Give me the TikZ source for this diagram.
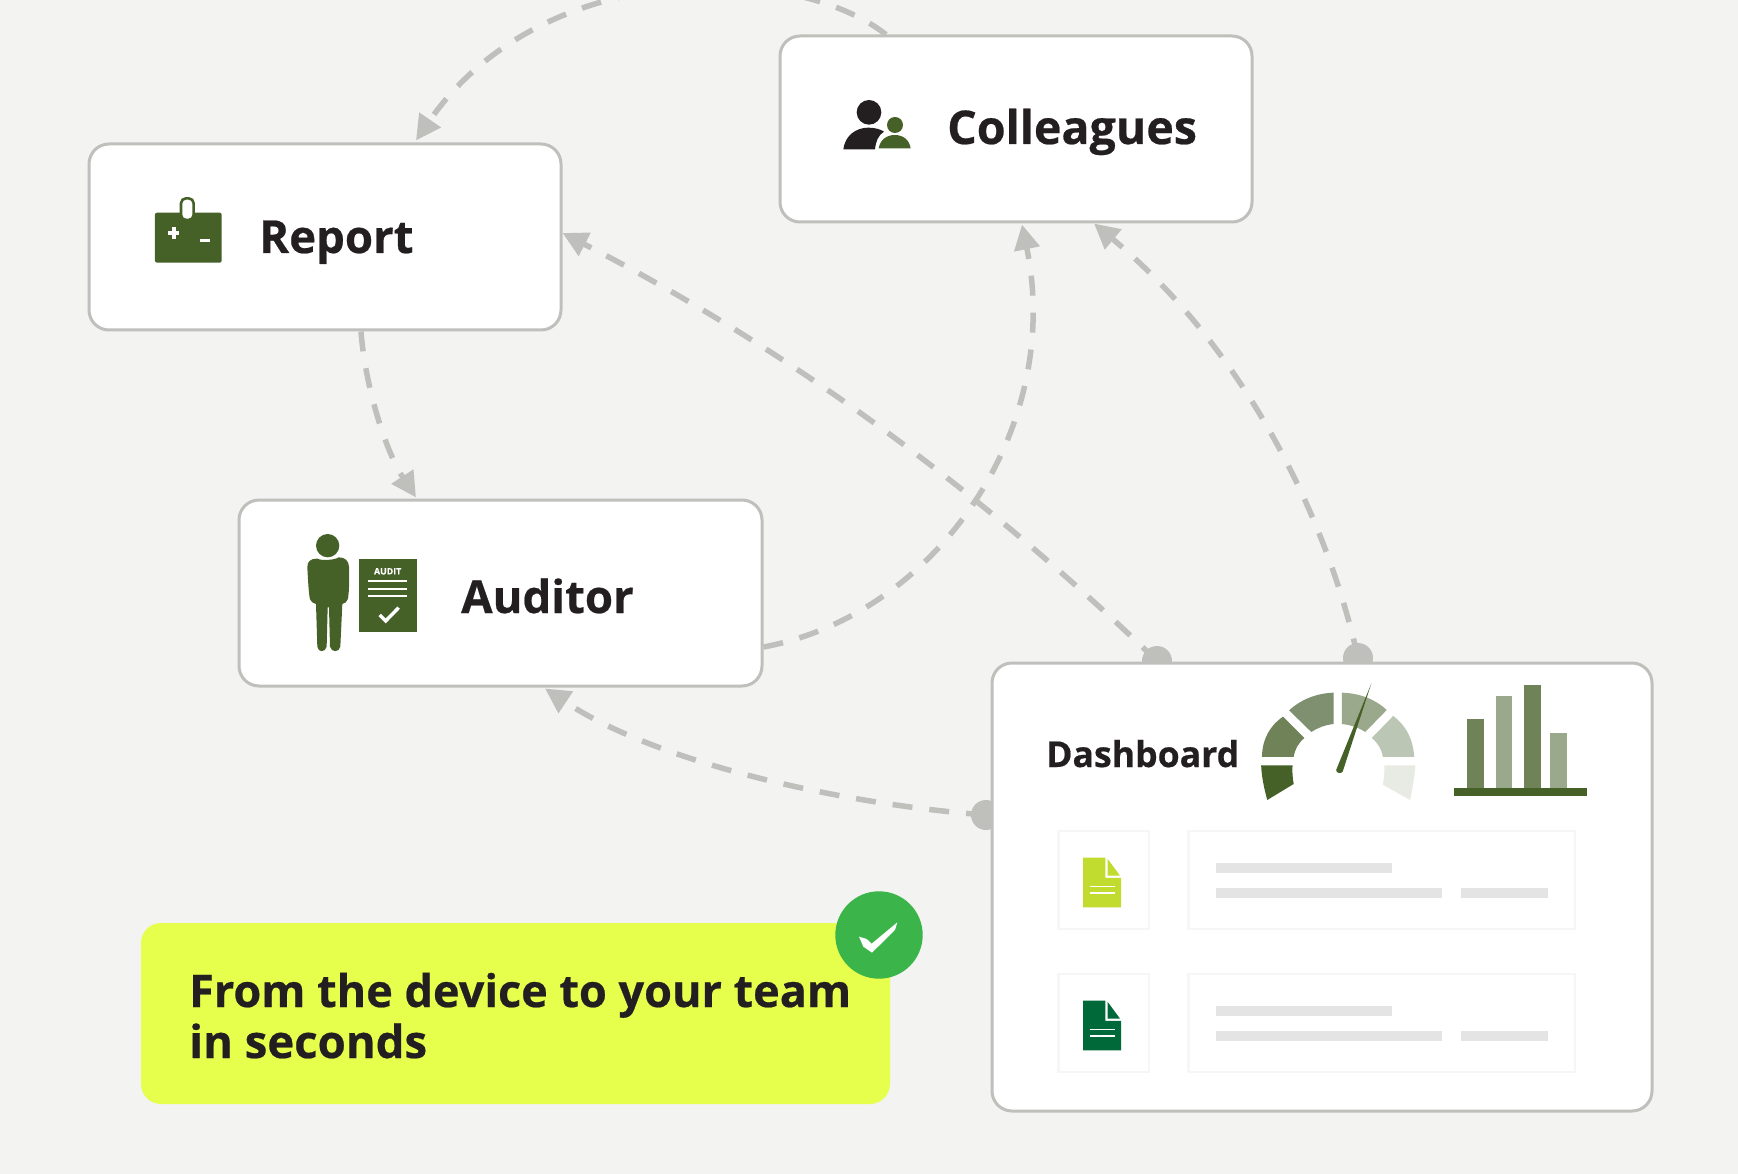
\documentclass[tikz,border=0pt]{standalone}
\usepackage{fontspec}
\setmainfont{Open Sans}[BoldFont={Open Sans Bold},BoldFeatures={FakeBold=0.5}]
\usetikzlibrary{arrows.meta}
\pgfdeclarelayer{back}
\pgfsetlayers{back,main}
\definecolor{bgc}{HTML}{F3F3F1}
\definecolor{edgec}{HTML}{BFBFBC}
\definecolor{ink}{HTML}{231F20}
\definecolor{moss}{HTML}{466128}
\definecolor{moss2}{HTML}{6F8258}
\definecolor{moss3}{HTML}{7E9070}
\definecolor{moss4}{HTML}{9AA98C}
\definecolor{moss5}{HTML}{BCC6B4}
\definecolor{moss6}{HTML}{E8EBE4}
\definecolor{limey}{HTML}{C1DC2E}
\definecolor{deepg}{HTML}{00693A}
\definecolor{lemon}{HTML}{E6FF4D}
\definecolor{okg}{HTML}{3BB54A}
\definecolor{rowl}{HTML}{F6F6F5}
\definecolor{barc}{HTML}{E4E4E4}
\tikzset{
  card/.style={draw=edgec,line width=3pt,fill=white,rounded corners=20pt,inner sep=0pt},
  link/.style={draw=edgec,line width=5.5pt,dash pattern=on 20pt off 17pt,-{Triangle[length=25pt,width=25pt,fill=edgec]}},
  dot/.style={circle,fill=edgec,minimum size=30pt,inner sep=0pt},
  txt/.style={anchor=base west,inner sep=0pt,text=ink,font=\bfseries\fontsize{45.5}{46}\selectfont},
  rowbox/.style={draw=rowl,line width=2.8pt,fill=white},
}
\begin{document}
\begin{tikzpicture}[x=1pt,y=-1pt]
\useasboundingbox (0,0) rectangle (1738,1174);
\clip (0,0) rectangle (1738,1174);
\begin{pgfonlayer}{back}
\fill[bgc] (0,0) rectangle (1738,1174);
\end{pgfonlayer}
% cards
\node[card,minimum width=472pt,minimum height=186pt] (colleagues) at (1016,129) {};
\node[card,minimum width=472pt,minimum height=186pt] (report) at (325,237) {};
\node[card,minimum width=523pt,minimum height=186pt] (auditor) at (500.5,593) {};
\node[card,minimum width=660pt,minimum height=448pt] (dashboard) at (1322,887) {};
\node[fill=lemon,rounded corners=20pt,minimum width=749pt,minimum height=181pt,inner sep=0pt] (banner) at (515.5,1013.5) {};
% connectors
\begin{pgfonlayer}{back}
\node[dot] (dota) at (1157,661) {};
\node[dot] (dotb) at (1358,658) {};
\node[dot] (dotc) at (986,815) {};
\draw[link] ([xshift=36pt]report.south) .. controls (365,385) and (385,450) .. ([xshift=-84.5pt,yshift=1pt]auditor.north);
\draw[link] ([xshift=-130pt]colleagues.north) .. controls (790,-40) and (540,-40) .. ([xshift=91pt,yshift=2pt]report.north);
\draw[link] (dota.center) .. controls (980,490) and (790,350) .. ([yshift=4pt]report.east);
\draw[link] (dotb.center) .. controls (1325,510) and (1240,345) .. ([xshift=78pt]colleagues.south);
\draw[link] ([yshift=-54pt]auditor.east) .. controls (935,615) and (1064,430) .. ([xshift=6pt,yshift=-1pt]colleagues.south);
\draw[link] (dotc.center) .. controls (850,805) and (660,765) .. ([xshift=44.5pt,yshift=-1pt]auditor.south);
\end{pgfonlayer}
% labels
\node[txt,font=\bfseries\fontsize{46.5}{47}\selectfont] (tcol) at (947,144) {Colleagues};
\node[txt] (trep) at (259,253) {Report};
\node[txt] (taud) at (461,613) {Auditor};
\node[txt,font=\bfseries\fontsize{35.6}{36}\selectfont] (tdash) at (1046,767) {Dashboard};
\node[txt,font=\bfseries\fontsize{45}{46}\selectfont] (tban1) at (189,1007) {From the device to your team};
\node[txt] (tban2) at (189,1058) {in seconds};
% colleagues icon
\begin{scope}[shift={(820,80)},x=0.3333pt,y=-0.3333pt]
\fill[ink] (147,97) circle[radius=37];
\fill[ink] (70,208) .. controls (75,165) and (110,143) .. (145,143) .. controls (165,143) and (182,148) .. (192,155) .. controls (175,165) and (167,185) .. (165,208) -- cycle;
\fill[moss] (225,135) circle[radius=24];
\fill[moss] (176,205) .. controls (180,180) and (200,165) .. (224,165) .. controls (250,165) and (268,180) .. (272,205) -- cycle;
\end{scope}
% report icon
\begin{scope}[shift={(80,140)},x=0.3333pt,y=-0.3333pt]
\fill[moss,rounded corners=2pt] (225,218) rectangle (425,368);
\draw[moss,fill=white,line width=2.6pt,rounded corners=5pt] (303,175) rectangle (341,240);
\fill[white] (264,273) rectangle (298,284);
\fill[white] (276,261) rectangle (287,296);
\fill[white] (359,297) rectangle (391,307);
\end{scope}
% auditor icon
\begin{scope}[shift={(280,510)},x=0.3333pt,y=-0.3333pt]
\fill[moss] (143,107) circle[radius=35];
\fill[moss] (112,146) .. controls (90,146) and (82,155) .. (82,172) .. controls (84,210) and (86,250) .. (90,268) .. controls (93,276) and (100,280) .. (108,282) -- (112,410) .. controls (114,428) and (136,428) .. (140,410) -- (143,292) -- (147,292) -- (150,410) .. controls (154,428) and (178,428) .. (181,410) -- (187,282) .. controls (195,280) and (202,275) .. (204,266) .. controls (208,240) and (208,200) .. (207,170) .. controls (206,152) and (195,142) .. (176,142) .. controls (165,150) and (125,153) .. (112,146) -- cycle;
\fill[moss] (238,148) rectangle (410,365);
\node[inner sep=0pt,text=white,font=\bfseries\fontsize{8.8}{9}\selectfont] (taudit) at (323,184) {AUDIT};
\draw[white,line width=1.7pt] (265,214) -- (381,214) (265,236) -- (381,236) (265,257) -- (381,257);
\draw[white,line width=3.4pt] (299,315) -- (317,333) -- (356,293);
\end{scope}
% gauge and bars
\begin{scope}[shift={(1030,650)},x=0.3827pt,y=-0.3333pt]
\fill[moss] (604,346) -- (686,346) .. controls (685,365) and (686,384) .. (689,402) -- (620,450) .. controls (611,413) and (605,378) .. (604,346) -- cycle;
\fill[moss2] (606,321) .. controls (607,268) and (626,228) .. (661,200) -- (717,264) .. controls (701,279) and (692,298) .. (689,321) -- cycle;
\fill[moss3] (677,181) .. controls (709,148) and (748,130) .. (793,128) -- (793,222) .. controls (771,225) and (752,233) .. (735,246) -- cycle;
\fill[moss4] (815,128) .. controls (862,130) and (901,147) .. (932,180) -- (876,246) .. controls (859,233) and (838,225) .. (815,222) -- cycle;
\fill[moss5] (949,198) .. controls (983,227) and (1001,268) .. (1004,321) -- (922,321) .. controls (919,298) and (909,279) .. (893,264) -- cycle;
\fill[moss6] (926,346) -- (1007,346) .. controls (1005,378) and (1000,413) .. (993,450) -- (922,404) .. controls (925,385) and (927,365) .. (926,346) -- cycle;
\fill[moss] (892,100) -- (817,365) .. controls (812,372) and (800,370) .. (800,360) -- cycle;
\fill[moss2] (1143,208) rectangle (1186,414);
\fill[moss4] (1217,138) rectangle (1260,414);
\fill[moss2] (1291,106) rectangle (1334,414);
\fill[moss4] (1360,250) rectangle (1403,414);
\fill[moss] (1108,414) rectangle (1455,438);
\end{scope}
% document rows
\begin{scope}[shift={(1040,820)},x=0.3571pt,y=-0.3333pt]
\foreach \dy/\col in {0/limey,429/deepg}{
  \begin{scope}[yshift=\dy*0.3333*-1pt]
  \draw[rowbox] (52,33) rectangle (305,327);
  \draw[rowbox] (415,33) rectangle (1498,327);
  \fill[barc] (494,129) rectangle (986,158);
  \fill[barc] (494,205) rectangle (1125,235);
  \fill[barc] (1179,205) rectangle (1423,235);
  \fill[\col] (121,113) -- (183,113) -- (183,174) -- (227,174) -- (227,262) -- (121,262) -- cycle;
  \fill[\col] (189,116) -- (224,167) -- (189,167) -- cycle;
  \draw[white,line width=1.1pt] (139,199) -- (209,199) (139,219) -- (209,219);
  \end{scope}
}
\end{scope}
% check badge
\node[circle,fill=okg,minimum size=87.4pt,inner sep=0pt] (badge) at (879,935) {};
\begin{scope}[shift={(800,870)},x=0.3333pt,y=-0.3333pt]
\fill[white] (177,200) -- (200,207) -- (215,221) -- (292,157) -- (285,180) -- (216,248) -- (190,230) -- cycle;
\end{scope}
\end{tikzpicture}
\end{document}
